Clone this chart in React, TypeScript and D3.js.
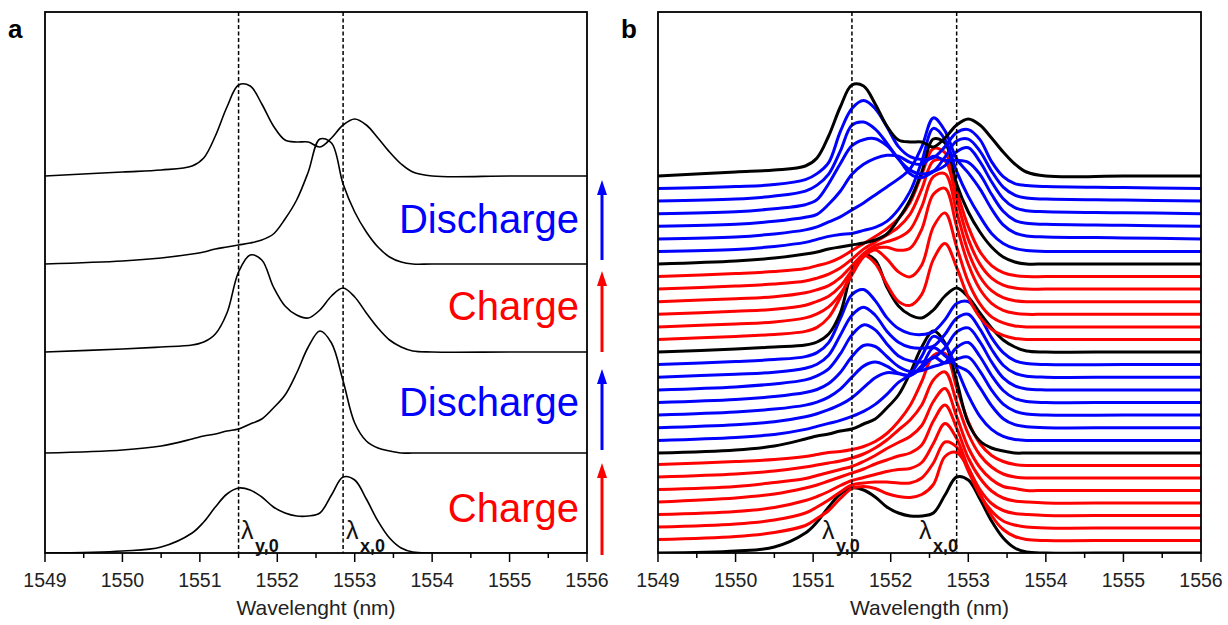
import React from 'react';
import * as d3 from 'd3';

// ---------- data ----------
const wavelengths = [1549, 1550, 1550.5, 1550.9, 1551.05, 1551.2, 1551.35, 1551.5, 1551.65, 1551.8, 1551.95, 1552.1, 1552.25, 1552.4, 1552.55, 1552.7, 1552.85, 1553.0, 1553.15, 1553.3, 1553.45, 1553.6, 1553.75, 1554, 1555, 1556];

const majorTicks = [1549, 1550, 1551, 1552, 1553, 1554, 1555, 1556];
const minorTicks = [1549.5, 1550.5, 1551.5, 1552.5, 1553.5, 1554.5, 1555.5];
const referenceLines = [1551.5, 1552.85];

// black (reference) spectra, bottom to top
const black0 = [0, 2, 6, 20, 31, 46, 59, 65, 63, 56, 46, 40, 37, 37, 40, 58, 76, 73, 54, 32, 15, 5, 1, 0, 0, 0];
const black1 = [0, 3, 7, 14, 17, 19, 22, 24, 29, 34, 45, 58, 80, 106, 122, 110, 72, 30, 12, 5, 2, 0, 0, 0, 0, 0];
const black2 = [0, 3, 5, 7, 10, 18, 39, 80, 97, 92, 65, 46, 37, 34, 42, 56, 64, 55, 39, 24, 12, 5, 1, 0, 0, 0];
const black3 = [0, 3, 6, 10, 12, 15, 17, 19, 21, 24, 30, 45, 64, 92, 125, 121, 80, 52, 32, 17, 7, 2, 0, 0, 0, 0];
const black4 = [0, 4, 6, 10, 18, 40, 69, 91, 90, 72, 50, 36, 34, 34, 29, 38, 51, 57, 51, 38, 24, 12, 4, 0, 0, 0];
const blackOffsets = [0, 100, 201, 289, 377];

// first charge (red)
const chargeA1 = [1, 4, 8, 15, 22, 30, 42, 52, 54, 52, 47, 44, 43, 46, 56, 84, 88, 72, 47, 25, 11, 4, 1, 0, 0, 0];
const chargeA2 = [1, 4, 8, 15, 21, 28, 36, 43, 45, 46, 46, 45, 45, 50, 65, 86, 81, 57, 33, 17, 7, 3, 1, 0, 0, 0];
const chargeA3 = [1, 4, 8, 15, 19, 24, 30, 35, 38, 41, 44, 46, 47, 53, 72, 92, 77, 48, 26, 12, 5, 2, 1, 0, 0, 0];
const chargeA4 = [1, 5, 9, 15, 18, 22, 26, 30, 34, 39, 43, 47, 50, 58, 82, 98, 75, 45, 25, 12, 5, 2, 1, 0, 0, 0];
const chargeA5 = [1, 4, 8, 12, 15, 18, 21, 24, 29, 35, 42, 48, 54, 65, 89, 102, 74, 43, 23, 11, 4, 2, 0, 0, 0, 0];
const chargeA6 = [1, 4, 7, 11, 13, 15, 17, 20, 24, 30, 38, 48, 58, 73, 98, 106, 76, 44, 23, 11, 4, 1, 0, 0, 0, 0];
const chargeA7 = [1, 4, 6, 9, 11, 13, 14, 16, 19, 24, 32, 44, 60, 84, 110, 112, 78, 44, 22, 10, 4, 1, 0, 0, 0, 0];
const chargeAOffsets = [12.5, 25, 37.5, 50, 62.5, 75, 87.5];

// first discharge (blue)
const dischargeA1 = [0, 3, 6, 11, 14, 17, 20, 24, 29, 36, 46, 58, 66, 84, 104, 96, 72, 45, 24, 11, 4, 1, 0, 0, 0, 0];
const dischargeA2 = [0, 3, 6, 11, 14, 18, 23, 30, 40, 50, 55, 54, 52, 62, 80, 72, 62, 56, 40, 22, 9, 3, 1, 0, 0, 0];
const dischargeA3 = [0, 3, 6, 10, 13, 18, 26, 38, 49, 53, 49, 42, 40, 47, 58, 52, 56, 58, 44, 25, 11, 4, 1, 0, 0, 0];
const dischargeA4 = [0, 3, 6, 10, 13, 19, 30, 46, 57, 56, 46, 36, 31, 32, 36, 40, 55, 60, 46, 27, 12, 4, 1, 0, 0, 0];
const dischargeA5 = [0, 3, 6, 10, 14, 21, 36, 55, 65, 60, 46, 34, 29, 28, 32, 42, 58, 62, 48, 28, 12, 4, 1, 0, 0, 0];
const dischargeA6 = [0, 3, 5, 9, 13, 22, 42, 62, 70, 62, 46, 35, 30, 29, 31, 43, 59, 63, 48, 28, 12, 4, 1, 0, 0, 0];
const dischargeA7 = [0, 3, 5, 8, 12, 22, 46, 70, 75, 64, 47, 36, 31, 30, 33, 45, 61, 63, 48, 27, 12, 4, 1, 0, 0, 0];
const dischargeAOffsets = [112.6, 125.3, 137.9, 150.5, 163.1, 175.8, 188.4];

// second charge (red)
const chargeB1 = [0, 3, 5, 8, 12, 22, 42, 68, 84, 76, 55, 38, 34, 45, 80, 96, 72, 42, 22, 10, 4, 1, 0, 0, 0, 0];
const chargeB2 = [0, 3, 5, 9, 13, 20, 33, 52, 70, 77, 68, 55, 50, 62, 100, 114, 80, 45, 23, 10, 4, 1, 0, 0, 0, 0];
const chargeB3 = [0, 3, 5, 9, 13, 18, 28, 44, 58, 66, 67, 64, 66, 85, 120, 126, 88, 50, 25, 11, 4, 1, 0, 0, 0, 0];
const chargeB4 = [0, 3, 5, 9, 12, 16, 24, 36, 48, 56, 60, 64, 72, 95, 125, 128, 90, 50, 25, 11, 4, 1, 0, 0, 0, 0];
const chargeB5 = [0, 3, 5, 8, 11, 15, 21, 30, 40, 47, 54, 62, 75, 100, 128, 128, 90, 50, 25, 11, 4, 1, 0, 0, 0, 0];
const chargeB6 = [0, 3, 5, 8, 11, 14, 19, 26, 33, 40, 48, 58, 74, 102, 128, 124, 86, 50, 25, 11, 4, 1, 0, 0, 0, 0];
const chargeBOffsets = [213.6, 226.1, 238.7, 251.3, 263.9, 276.4];

// second discharge (blue)
const dischargeB1 = [0, 2, 5, 9, 12, 15, 17, 18, 21, 24, 30, 42, 60, 90, 123, 112, 80, 55, 35, 18, 8, 3, 1, 0, 0, 0];
const dischargeB2 = [0, 2, 5, 9, 12, 17, 22, 29, 36, 44, 52, 60, 70, 92, 121, 108, 80, 66, 50, 30, 14, 6, 3, 2, 1, 0];
const dischargeB3 = [0, 2, 5, 9, 12, 22, 35, 52, 62, 68, 71, 70, 64, 62, 70, 66, 66, 64, 52, 32, 15, 6, 3, 2, 1, 0];
const dischargeB4 = [0, 2, 5, 9, 14, 30, 50, 68, 74, 75, 68, 55, 40, 36, 42, 48, 62, 66, 52, 32, 15, 6, 3, 2, 1, 0];
const dischargeB5 = [0, 2, 5, 10, 16, 27, 50, 76, 79, 72, 58, 42, 31, 27, 30, 44, 60, 62, 50, 30, 14, 6, 3, 2, 1, 0];
const dischargeB6 = [0, 2, 4, 9, 15, 26, 57, 80, 88, 80, 62, 42, 32, 29, 31, 42, 56, 59, 49, 27, 12, 5, 3, 2, 1, 0];
const dischargeBOffsets = [301.6, 314.1, 326.7, 339.3, 351.9, 364.4];

const stageLabels = ['Discharge', 'Charge', 'Discharge', 'Charge'];

// ---------- layout ----------
const W = 1228;
const H = 625;
const TOP = 12;
const BOTTOM = 553;
const RED = '#ff0000';
const BLUE = '#0000ff';
const FONT = 'Arial, "Liberation Sans", Helvetica, sans-serif';

type Series = { values: number[]; offset: number; color: string };

const blacks = [black0, black1, black2, black3, black4];
const chargeA = [chargeA1, chargeA2, chargeA3, chargeA4, chargeA5, chargeA6, chargeA7];
const dischargeA = [dischargeA1, dischargeA2, dischargeA3, dischargeA4, dischargeA5, dischargeA6, dischargeA7];
const chargeB = [chargeB1, chargeB2, chargeB3, chargeB4, chargeB5, chargeB6];
const dischargeB = [dischargeB1, dischargeB2, dischargeB3, dischargeB4, dischargeB5, dischargeB6];

const panelASeries: Series[] = blacks.map((v, i) => ({ values: v, offset: blackOffsets[i], color: '#000' }));

const panelBSeries: Series[] = [
  { values: blacks[0], offset: blackOffsets[0], color: '#000' },
  ...chargeA.map((v, i) => ({ values: v, offset: chargeAOffsets[i], color: RED })),
  { values: blacks[1], offset: blackOffsets[1], color: '#000' },
  ...dischargeA.map((v, i) => ({ values: v, offset: dischargeAOffsets[i], color: BLUE })),
  { values: blacks[2], offset: blackOffsets[2], color: '#000' },
  ...chargeB.map((v, i) => ({ values: v, offset: chargeBOffsets[i], color: RED })),
  { values: blacks[3], offset: blackOffsets[3], color: '#000' },
  ...dischargeB.map((v, i) => ({ values: v, offset: dischargeBOffsets[i], color: BLUE })),
  { values: blacks[4], offset: blackOffsets[4], color: '#000' },
];

type PanelProps = {
  left: number;
  right: number;
  letter: string;
  title: string;
  series: Series[];
  strokeWidth: number;
  lyX: number;
  lxX: number;
};

function Panel({ left, right, letter, title, series, strokeWidth, lyX, lxX }: PanelProps) {
  const x = d3.scaleLinear().domain([1549, 1556]).range([left, right]);
  const y = d3.scaleLinear().domain([0, BOTTOM - TOP]).range([BOTTOM, TOP]);
  const makeLine = (offset: number) =>
    d3
      .line<number>()
      .x((_, i) => x(wavelengths[i]))
      .y((v) => y(v + offset))
      .curve(d3.curveCatmullRom.alpha(0.5));
  const clipId = `clip-${letter}`;
  return (
    <g>
      <defs>
        <clipPath id={clipId}>
          <rect x={left} y={TOP} width={right - left} height={BOTTOM - TOP} />
        </clipPath>
      </defs>
      <g clipPath={`url(#${clipId})`}>
        {series.map((s, i) => (
          <path
            key={i}
            d={makeLine(s.offset)(s.values) || ''}
            fill="none"
            stroke={s.color}
            strokeWidth={strokeWidth}
            strokeLinejoin="round"
          />
        ))}
      </g>
      {referenceLines.map((w) => (
        <line
          key={w}
          x1={x(w)}
          x2={x(w)}
          y1={TOP}
          y2={BOTTOM}
          stroke="#000"
          strokeWidth={1.5}
          strokeDasharray="4,2.5"
        />
      ))}
      <rect x={left} y={TOP} width={right - left} height={BOTTOM - TOP} fill="none" stroke="#000" strokeWidth={1.8} />
      {majorTicks.map((t) => (
        <g key={t}>
          <line x1={x(t)} x2={x(t)} y1={BOTTOM} y2={BOTTOM + 9} stroke="#000" strokeWidth={1.5} />
          <text x={x(t)} y={587} textAnchor="middle" fontFamily={FONT} fontSize={19.5} fill="#222">
            {t}
          </text>
        </g>
      ))}
      {minorTicks.map((t) => (
        <line key={t} x1={x(t)} x2={x(t)} y1={BOTTOM} y2={BOTTOM + 5} stroke="#000" strokeWidth={1.5} />
      ))}
      <text x={(left + right) / 2} y={615} textAnchor="middle" fontFamily={FONT} fontSize={21} fill="#222">
        {title}
      </text>
      <text x={left - 37} y={38} fontFamily={FONT} fontSize={26} fontWeight="bold" fill="#000">
        {letter}
      </text>
      <text x={lyX} y={539} fontFamily={FONT} fontSize={25} fill="#111">
        λ
      </text>
      <text x={lyX + 14} y={552} fontFamily={FONT} fontSize={18} fontWeight="bold" fill="#111">
        y,0
      </text>
      <text x={lxX} y={539} fontFamily={FONT} fontSize={25} fill="#111">
        λ
      </text>
      <text x={lxX + 14} y={552} fontFamily={FONT} fontSize={18} fontWeight="bold" fill="#111">
        x,0
      </text>
    </g>
  );
}

function Arrow({ x, y1, y2, color }: { x: number; y1: number; y2: number; color: string }) {
  return (
    <g>
      <line x1={x} x2={x} y1={y1} y2={y2 + 12} stroke={color} strokeWidth={3} />
      <path d={`M${x},${y2} L${x - 5},${y2 + 15} L${x + 5},${y2 + 15} Z`} fill={color} />
    </g>
  );
}

export default function App() {
  const arrowSpecs = [
    { y1: 260, y2: 180, color: BLUE },
    { y1: 352, y2: 271, color: RED },
    { y1: 450, y2: 369, color: BLUE },
    { y1: 555, y2: 463, color: RED },
  ];
  const labelBaselines = [233, 320, 416, 522];
  return (
    <svg width={W} height={H} style={{ position: 'absolute', left: 0, top: 0, background: '#fff' }}>
      <rect x={0} y={0} width={W} height={H} fill="#fff" />
      <Panel
        left={45}
        right={587}
        letter="a"
        title="Wavelenght (nm)"
        series={panelASeries}
        strokeWidth={1.6}
        lyX={241}
        lxX={346}
      />
      <Panel
        left={658}
        right={1201}
        letter="b"
        title="Wavelength (nm)"
        series={panelBSeries}
        strokeWidth={3}
        lyX={822}
        lxX={919}
      />
      {stageLabels.map((s, i) => (
        <text
          key={i}
          x={579}
          y={labelBaselines[i]}
          textAnchor="end"
          fontFamily={FONT}
          fontSize={40}
          fill={s === 'Charge' ? RED : BLUE}
        >
          {s}
        </text>
      ))}
      {arrowSpecs.map((a, i) => (
        <Arrow key={i} x={602} y1={a.y1} y2={a.y2} color={a.color} />
      ))}
    </svg>
  );
}
